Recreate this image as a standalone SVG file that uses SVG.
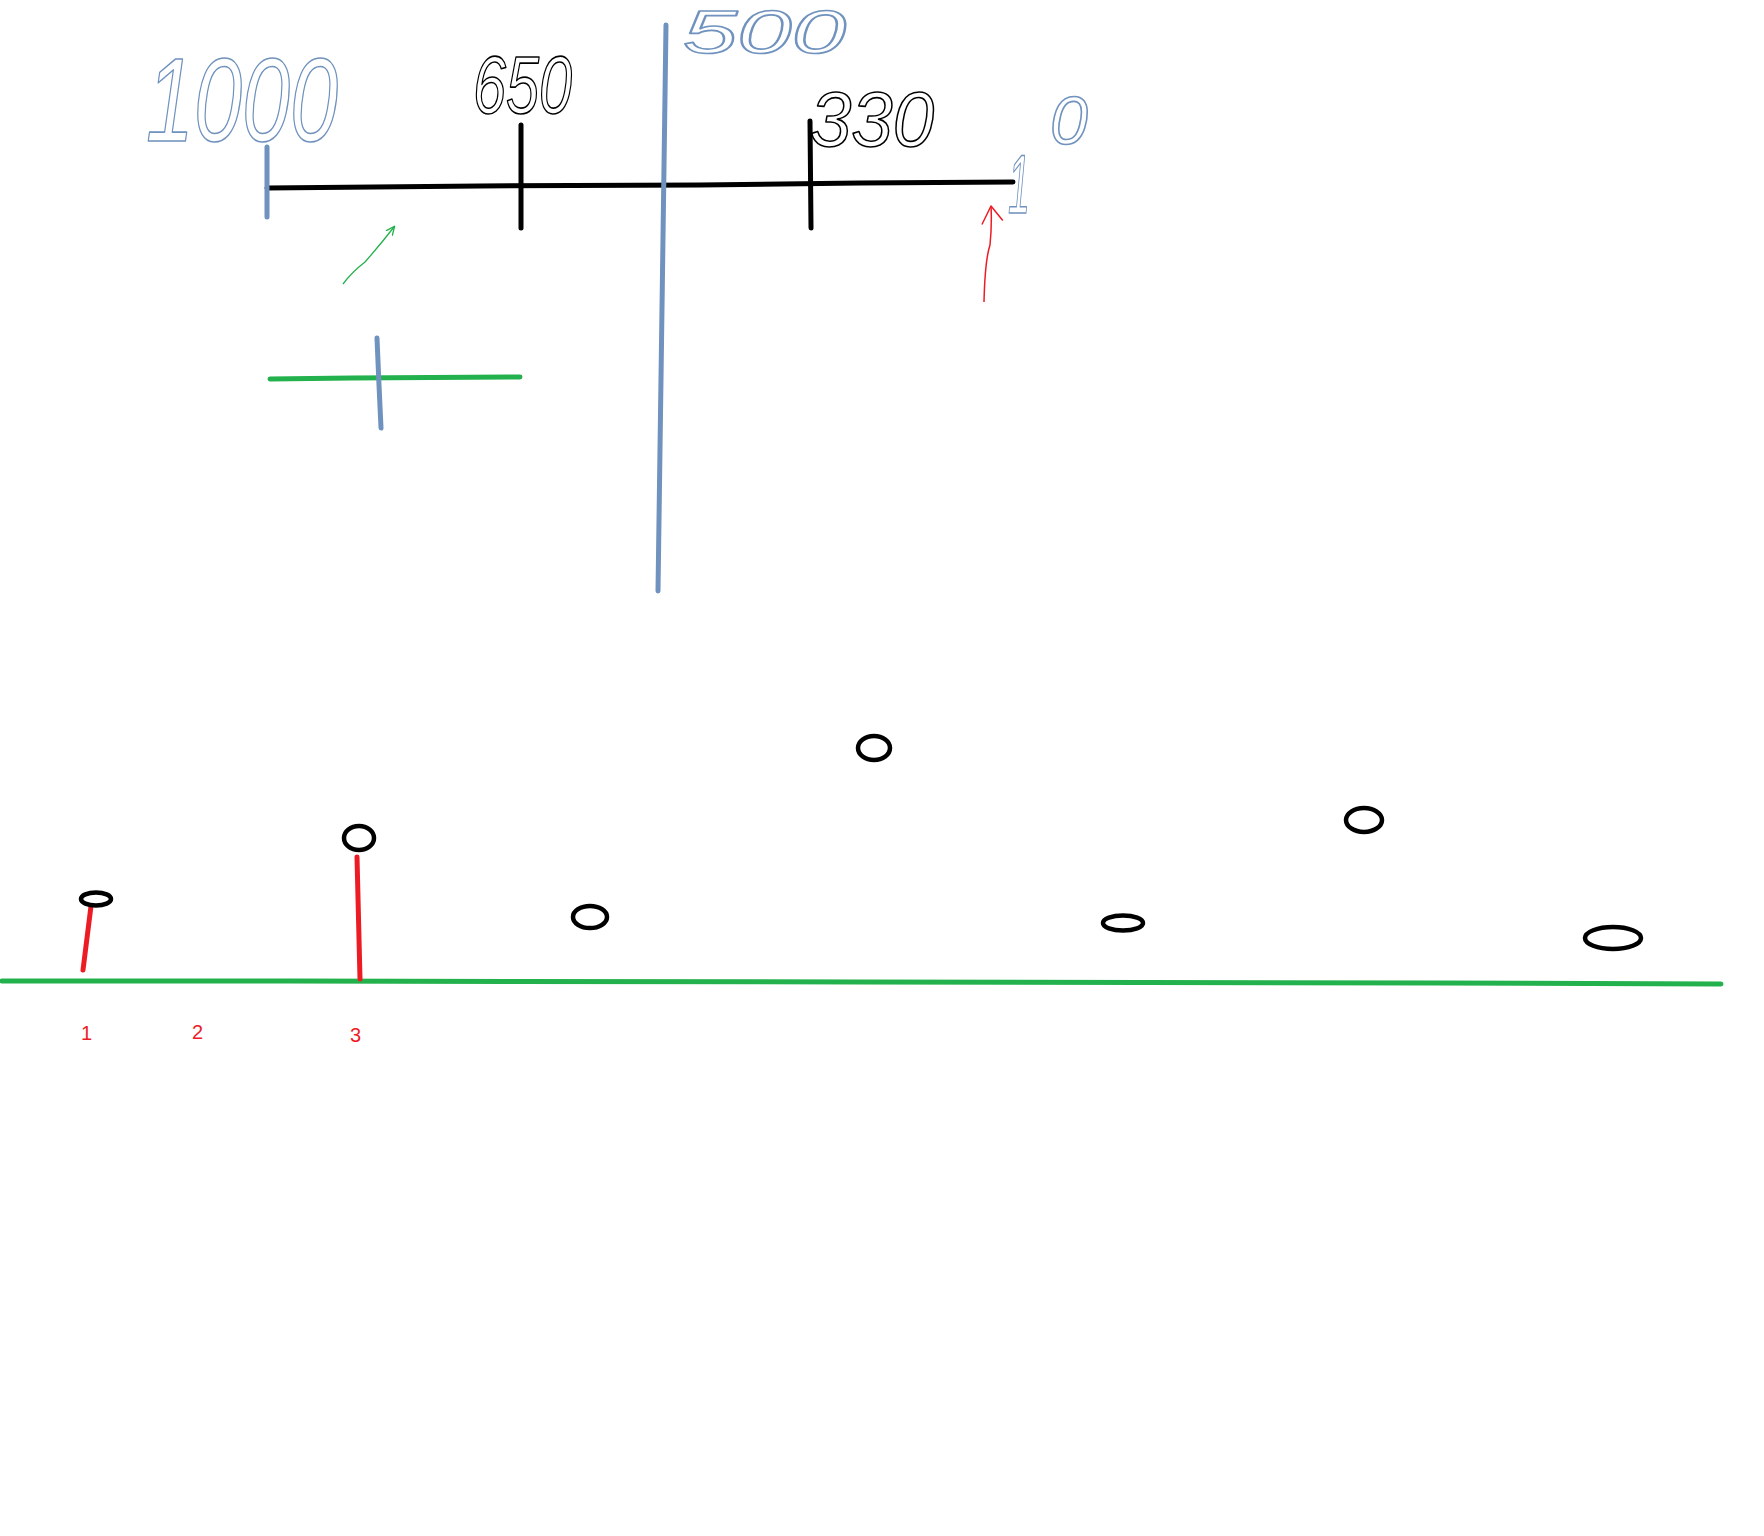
<svg xmlns="http://www.w3.org/2000/svg" width="1764" height="1536" viewBox="0 0 1764 1536">
<style>
.hw{fill:none;stroke-width:1.6;font-family:"Liberation Sans",Arial,sans-serif;font-style:italic;stroke-linejoin:round}
.blue{stroke:#7092be}
.blk{stroke:#000}
.thick{fill:none;stroke-linecap:round;stroke-width:5}
.ring{fill:none;stroke:#000;stroke-width:4.5}
.num{fill:#ed1c24;font-family:"Liberation Sans",Arial,sans-serif;font-size:20px}
</style>
<defs>
<marker id="ahG" viewBox="0 0 10 10" refX="8" refY="5" markerWidth="10" markerHeight="10" orient="auto" markerUnits="userSpaceOnUse"><path d="M0,1 L9,5 L0,9" fill="none" stroke="#22b14c" stroke-width="1.3"/></marker>
<marker id="ahR" viewBox="0 0 24 24" refX="21" refY="12" markerWidth="24" markerHeight="24" orient="auto" markerUnits="userSpaceOnUse"><path d="M3,2 L21,12 L6,23" fill="none" stroke="#ed1c24" stroke-width="1.5" stroke-linejoin="round"/></marker>
</defs>
<rect width="1764" height="1536" fill="#fff"/>

<g id="scale">
<path class="thick" d="M267,188 L480,186 L700,185 L860,183 L1013,182" stroke="#000" stroke-width="5"/>
<line class="thick" x1="267" y1="147" x2="267" y2="217" stroke="#7092be"/>
<line class="thick" x1="521" y1="125" x2="521" y2="228" stroke="#000"/>
<line class="thick" x1="810" y1="121" x2="811" y2="228" stroke="#000"/>
<line class="thick" x1="666" y1="25" x2="658" y2="591" stroke="#7092be" stroke-width="5"/>
</g>

<g id="labels">
<text class="hw blue" x="146" y="141" font-size="118" textLength="192" lengthAdjust="spacingAndGlyphs">1000</text>
<text class="hw blk" x="473" y="113" font-size="82" textLength="99" lengthAdjust="spacingAndGlyphs">650</text>
<text class="hw blue" x="683" y="53" font-size="62" textLength="163" lengthAdjust="spacingAndGlyphs">500</text>
<text class="hw blk" x="810" y="146" font-size="78" textLength="124" lengthAdjust="spacingAndGlyphs">330</text>
<text class="hw blue" x="1008" y="213" font-size="84" textLength="22" lengthAdjust="spacingAndGlyphs">1</text>
<text class="hw blue" x="1050" y="144" font-size="68">0</text>
</g>

<g id="marker">
<path class="thick" d="M270,379 L352,378 L520,377" stroke="#22b14c" stroke-width="4.5"/>
<path class="thick" d="M377,338 L379,385 L381,428" stroke="#7092be" stroke-width="5"/>
</g>

<g id="connectors">
<path d="M343,284 Q352,272 365,262 Q380,245 394,227" fill="none" stroke="#22b14c" stroke-width="1.3" marker-end="url(#ahG)"/>
<path d="M984,302 Q985,260 990,245 Q992,225 991,206" fill="none" stroke="#ed1c24" stroke-width="1.5" marker-end="url(#ahR)"/>
</g>

<g id="ground">
<path class="thick" d="M2,981 L290,981 L860,982 L1435,983 L1721,984" stroke="#22b14c" stroke-width="4.5"/>
</g>

<g id="point1">
<line class="thick" x1="83" y1="970" x2="91" y2="906" stroke="#ed1c24"/>
<ellipse class="ring" cx="96" cy="899" rx="15" ry="6.5"/>
<text class="num" x="81" y="1040">1</text>
</g>
<g id="point2">
<text class="num" x="192" y="1039">2</text>
</g>
<g id="point3">
<line class="thick" x1="357" y1="857" x2="360" y2="979" stroke="#ed1c24"/>
<ellipse class="ring" cx="359" cy="838" rx="15" ry="12"/>
<text class="num" x="350" y="1042">3</text>
</g>
<g id="point4"><ellipse class="ring" cx="590" cy="917" rx="17" ry="11"/></g>
<g id="point5"><ellipse class="ring" cx="874" cy="748" rx="16" ry="12"/></g>
<g id="point6"><ellipse class="ring" cx="1123" cy="923" rx="20" ry="7.5"/></g>
<g id="point7"><ellipse class="ring" cx="1364" cy="820" rx="18" ry="12"/></g>
<g id="point8"><ellipse class="ring" cx="1613" cy="938" rx="28" ry="11"/></g>
</svg>
